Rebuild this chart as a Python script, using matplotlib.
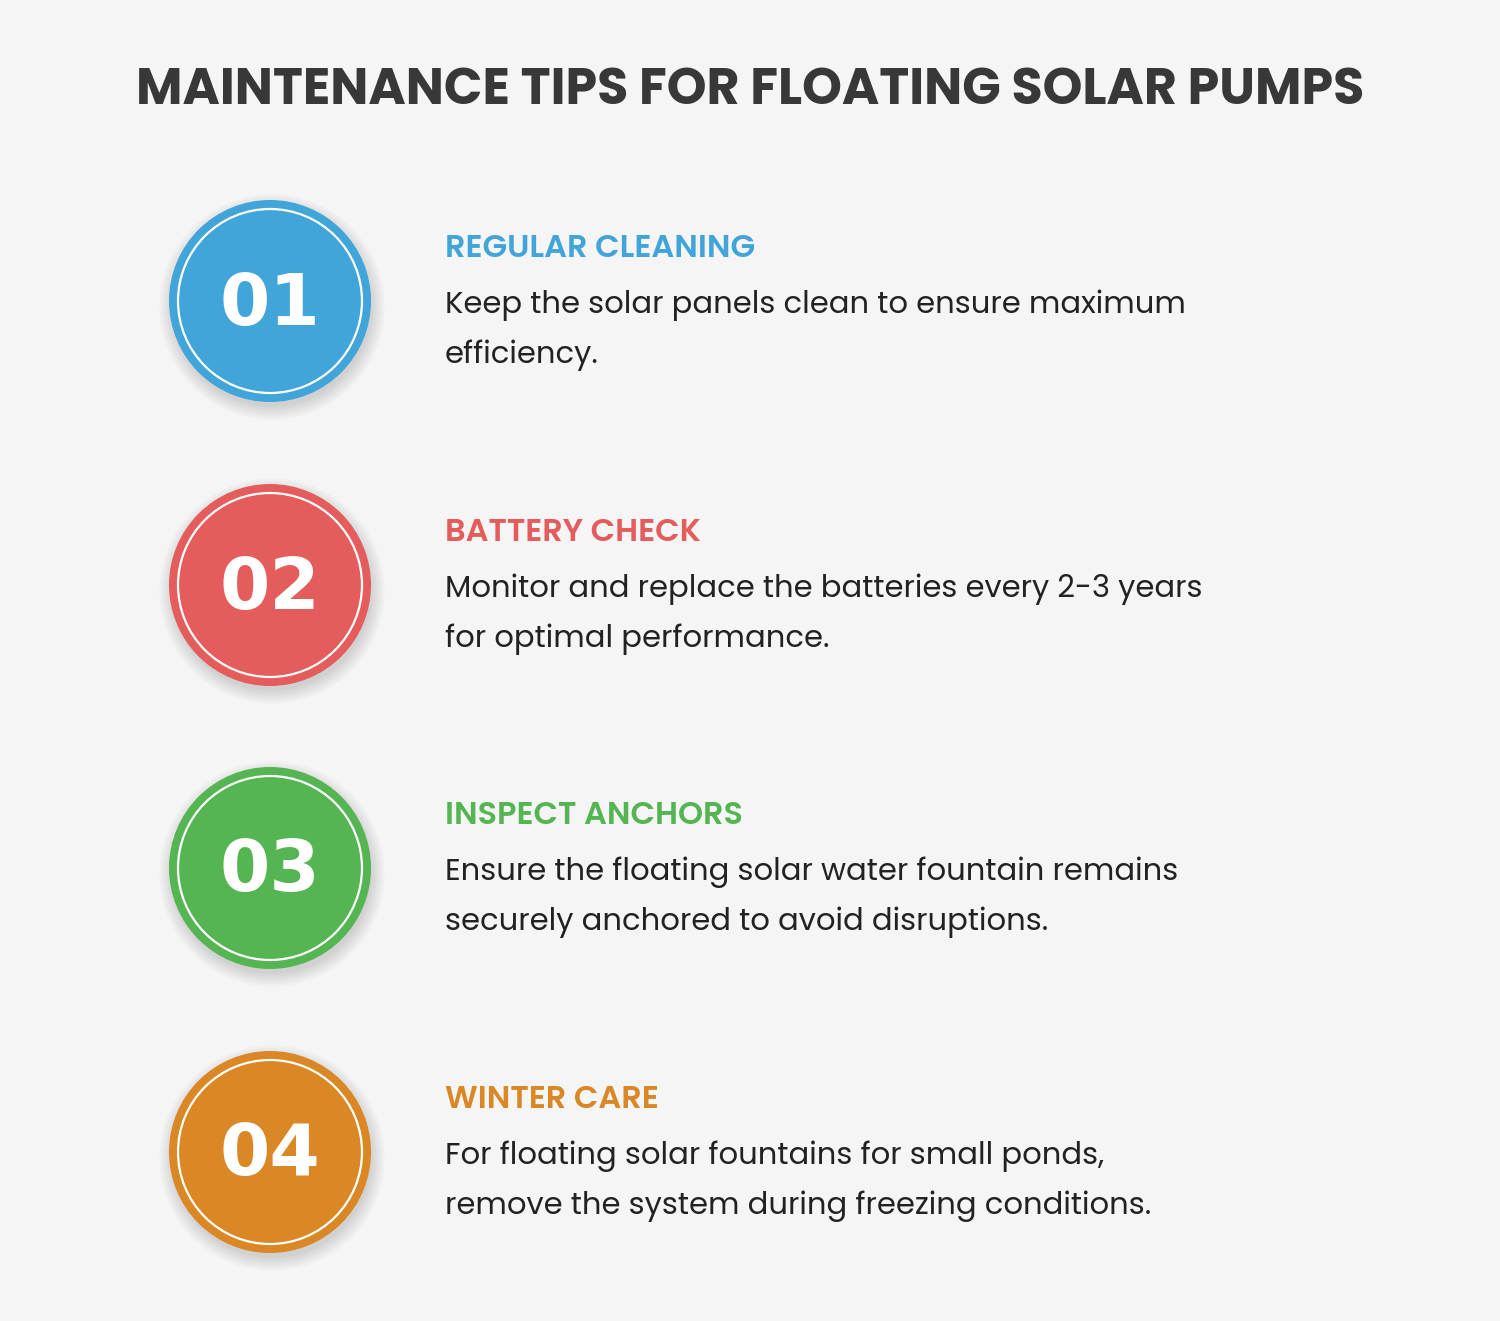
import matplotlib
matplotlib.use("Agg")
import matplotlib.pyplot as plt
from matplotlib.patches import Circle

title = "MAINTENANCE TIPS FOR FLOATING SOLAR PUMPS"
numbers = ["01", "02", "03", "04"]
headings = ["REGULAR CLEANING", "BATTERY CHECK", "INSPECT ANCHORS", "WINTER CARE"]
bodies = [
    ["Keep the solar panels clean to ensure maximum", "efficiency."],
    ["Monitor and replace the batteries every 2-3 years", "for optimal performance."],
    ["Ensure the floating solar water fountain remains", "securely anchored to avoid disruptions."],
    ["For floating solar fountains for small ponds,", "remove the system during freezing conditions."],
]
colors = ["#42A5DA", "#E45C5C", "#55B552", "#DA8725"]
centers_y = [301, 585, 868, 1152]
FAM = ["Poppins", "DejaVu Sans"]

fig = plt.figure(figsize=(15, 13.21), dpi=100)
fig.patch.set_facecolor("#F5F5F5")
ax = fig.add_axes([0, 0, 1, 1])
ax.set_xlim(0, 1500); ax.set_ylim(1321, 0); ax.axis("off")

ax.text(750, 92, title, ha="center", va="center", fontsize=36.5, fontweight="bold",
        color="#383838", family=FAM)

for num, head, body, col, cy in zip(numbers, headings, bodies, colors, centers_y):
    # soft shadow, mostly below
    for i in range(6):
        ax.add_patch(Circle((272, cy + 6), 100 + i * 2.5, color="#000000", alpha=0.022, lw=0))
    ax.add_patch(Circle((270, cy), 101, color=col, lw=0))
    ax.add_patch(Circle((270, cy), 92, fill=False, ec="white", lw=1.6))
    ax.text(270, cy + 4, num, ha="center", va="center", fontsize=52, color="white",
            family=["Liberation Sans Narrow", "DejaVu Sans"], fontweight="bold")
    ax.text(445, cy - 52, head, ha="left", va="center", fontsize=23, fontweight="semibold",
            color=col, family=FAM)
    for k, line in enumerate(body):
        ax.text(445, cy + 4 + k * 50, line, ha="left", va="center", fontsize=22,
                color="#222222", family=FAM)

fig.savefig("out.png", dpi=100, facecolor=fig.get_facecolor())
